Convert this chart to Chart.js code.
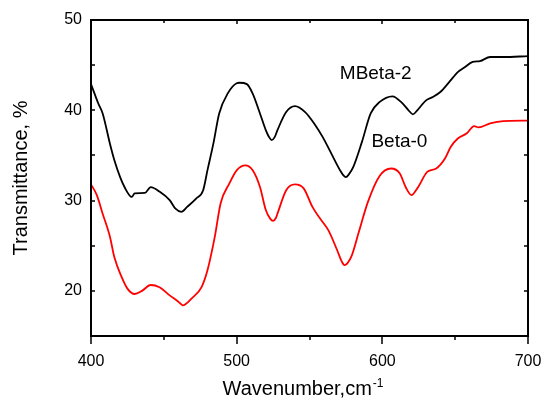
<!DOCTYPE html>
<html>
<head>
<meta charset="utf-8">
<script src="https://cdn.jsdelivr.net/npm/chart.js@4.4.1/dist/chart.umd.min.js"></script>
<style>
  html, body { margin: 0; padding: 0; background: #ffffff; }
  #wrap { width: 545px; height: 398px; }
</style>
</head>
<body>
<div id="wrap"><canvas id="c" width="545" height="398"></canvas></div>
<script>
// ---- data ----
const mbetaWavenumbers = [400,405,408,413,416,420,423,428,430,437,441,447,454,458,462,466,472,477,480,484,488,494,500,502,507,511,516,520,522,524,526,528,534,540,547,554,559,565,571,573,575,577,580,586,592,598,607,613,618,621,624,630,635,640,646,652,656,662,667,674,683,700];
const mbetaValues = [42.9,40.75,39.65,36.3,34.5,32.6,31.5,30.4,30.8,30.85,31.5,31.0,30.05,29.1,28.75,29.3,30.2,31.15,33.4,36.3,39.65,41.9,43.0,43.05,42.9,41.85,39.65,37.8,37.1,36.7,37.0,37.8,39.8,40.45,39.8,38.35,37.05,35.2,33.35,32.85,32.6,32.9,33.7,36.5,39.65,40.9,41.55,40.9,40.0,39.55,40.0,41.1,41.5,42.05,43.15,44.25,44.7,45.35,45.45,45.9,45.9,46.0];

const betaWavenumbers = [400,404,408,413,416,421,425,430,435,441,447,454,460,463,469,476,480,485,489,495,500,506,511,516,520,523,525,527,528,534,540,546,552,558,563,569,572,574,576,579,584,590,598,606,612,616,620,624,631,637,643,647,652,658,663,666,674,683,700];
const betaValues = [31.8,30.6,28.55,26.0,23.75,21.55,20.25,19.65,20.0,20.65,20.4,19.5,18.8,18.4,19.15,20.45,22.3,26.0,29.7,31.9,33.35,33.9,33.35,31.5,28.95,28.0,27.75,28.1,28.55,31.15,31.8,31.35,29.3,27.85,26.7,24.5,23.3,22.85,23.05,23.9,26.6,29.8,32.7,33.55,33.0,31.5,30.6,31.35,33.2,33.55,34.65,35.95,36.9,37.45,38.25,38.1,38.55,38.8,38.85];

const seriesNames = ["MBeta-2", "Beta-0"];
const xTickValues = [400, 500, 600, 700];
const yTickLabels = [20, 30, 40, 50];
// label anchor positions in data units (left edge x, vertical centre y)
const labelAnchors = [[570.8, 44.07], [592.5, 36.5]];

const FONT = "'Liberation Sans', Arial, sans-serif";

function toPoints(xs, ys) { return xs.map((x, i) => ({ x: x, y: ys[i] })); }

const framePlugin = {
  id: 'frame',
  afterDraw(chart) {
    const ctx = chart.ctx;
    const a = chart.chartArea;
    const xs = chart.scales.x, ys = chart.scales.y;
    ctx.save();
    ctx.strokeStyle = '#000';
    ctx.lineWidth = 2;
    ctx.strokeRect(a.left, a.top, a.right - a.left, a.bottom - a.top);
    ctx.lineWidth = 1.5;
    ctx.beginPath();
    for (let v = 400; v <= 700; v += 50) {
      const px = Math.round(xs.getPixelForValue(v));
      const major = v % 100 === 0;
      ctx.moveTo(px, a.bottom);
      ctx.lineTo(px, a.bottom + (major ? 8 : 4));
      ctx.moveTo(px, a.top);
      ctx.lineTo(px, a.top + (major ? 4 : 3));
    }
    for (let v = 15; v <= 50; v += 5) {
      const py = Math.round(ys.getPixelForValue(v));
      ctx.moveTo(a.left, py);
      ctx.lineTo(a.left + 4, py);
      ctx.moveTo(a.right, py);
      ctx.lineTo(a.right - 4, py);
    }
    ctx.stroke();

    ctx.fillStyle = '#000';
    ctx.textBaseline = 'alphabetic';
    ctx.font = '20px ' + FONT;
    const main = 'Wavenumber,cm';
    const w = ctx.measureText(main).width;
    const x0 = 222.5;
    ctx.fillText(main, x0, 395);
    ctx.font = '12px ' + FONT;
    ctx.fillText('-1', x0 + w + 1, 387);

    ctx.font = '19px ' + FONT;
    ctx.textBaseline = 'middle';
    labelAnchors.forEach((p, i) => {
      ctx.fillText(seriesNames[i], xs.getPixelForValue(p[0]), ys.getPixelForValue(p[1]));
    });
    ctx.restore();
  }
};

new Chart(document.getElementById('c'), {
  type: 'line',
  data: {
    datasets: [
      { label: seriesNames[0], data: toPoints(mbetaWavenumbers, mbetaValues), borderColor: '#000000', borderWidth: 1.8, pointRadius: 0, fill: false, cubicInterpolationMode: 'monotone' },
      { label: seriesNames[1], data: toPoints(betaWavenumbers, betaValues), borderColor: '#ff0000', borderWidth: 1.8, pointRadius: 0, fill: false, cubicInterpolationMode: 'monotone' }
    ]
  },
  options: {
    responsive: false,
    animation: false,
    layout: { padding: { left: 0, top: 20, right: 17, bottom: 0 } },
    plugins: { legend: { display: false }, tooltip: { enabled: false } },
    scales: {
      x: {
        type: 'linear', min: 400, max: 700,
        afterBuildTicks(s) { s.ticks = xTickValues.map(v => ({ value: v })); },
        grid: { display: false, drawTicks: false },
        border: { display: false },
        ticks: { padding: 16, color: '#000', font: { family: FONT, size: 16 }, maxRotation: 0, autoSkip: false },
        afterFit(s) { s.height = 62; s.paddingLeft = 0; s.paddingRight = 0; }
      },
      y: {
        type: 'linear', min: 15, max: 50,
        afterBuildTicks(s) { s.ticks = yTickLabels.map(v => ({ value: v })); },
        grid: { display: false, drawTicks: false },
        border: { display: false },
        title: { display: true, text: 'Transmittance, %', color: '#000', font: { family: FONT, size: 20 }, padding: { top: 9, bottom: 0 } },
        ticks: { padding: 9, color: '#000', font: { family: FONT, size: 16 }, autoSkip: false },
        afterFit(s) { s.width = 91; s.paddingTop = 0; s.paddingBottom = 0; }
      }
    }
  },
  plugins: [framePlugin]
});
</script>
</body>
</html>
